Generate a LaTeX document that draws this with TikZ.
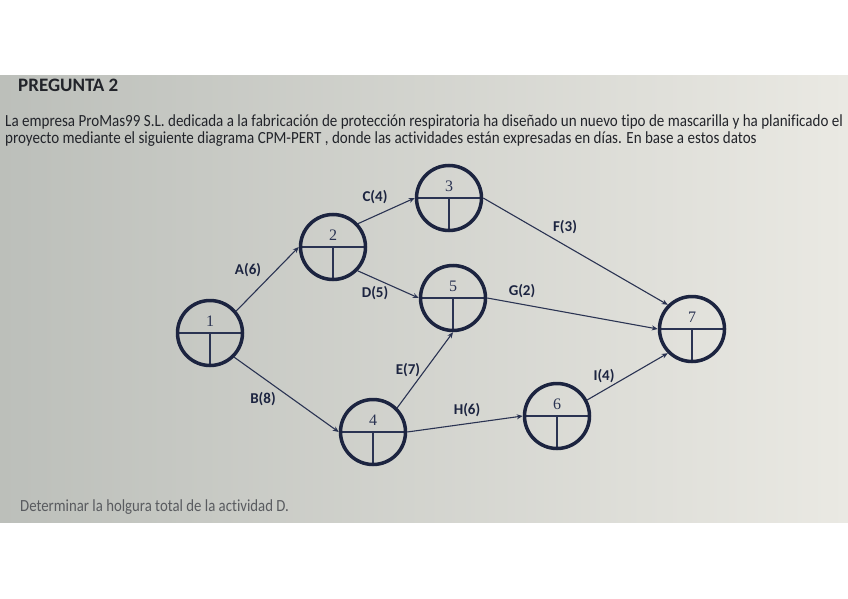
\documentclass[tikz,border=0pt]{standalone}
\usepackage{fontspec}
\setmainfont{Carlito}[Ligatures=NoCommon]
\newfontfamily\estrecha{Carlito}[FakeStretch=0.885, Ligatures=NoCommon]
\newfontfamily\pie{Carlito}[FakeStretch=0.87, Ligatures=NoCommon]
\newfontfamily\cifras{Liberation Serif}
\usetikzlibrary{arrows.meta}
\definecolor{tinta}{HTML}{1C2440}
\definecolor{trazo}{HTML}{2A3352}
\definecolor{letra}{HTML}{22242A}
\definecolor{fondoizq}{HTML}{BCBFBA}
\definecolor{fondomed}{HTML}{D9DAD4}
\definecolor{fondoder}{HTML}{EAE9E3}
\tikzset{
  evento/.style={circle, draw=tinta, line width=3.5pt, minimum size=65pt, inner sep=0pt,
    font=\cifras\fontsize{16}{16}\selectfont, text=trazo, text height=11.5pt, text depth=24.5pt,
    path picture={\draw[trazo, line width=1.2pt] (path picture bounding box.west) -- (path picture bounding box.east)
      (path picture bounding box.center) -- (path picture bounding box.south);}},
  arista/.style={draw=trazo, line width=1.1pt, -{Stealth[length=6pt,width=5pt]}},
  etiq/.style={font=\bfseries\fontsize{15}{15}\selectfont, text=tinta}
}
\begin{document}
\begin{tikzpicture}[x=1pt,y=-1pt]
  \useasboundingbox (0,0) rectangle (848,599);
  \fill[left color=fondoizq, middle color=fondomed, right color=fondoder] (0,76) rectangle (848,522);
  \node[anchor=base west, inner sep=0, text=letra, font=\bfseries\fontsize{19}{19}\selectfont] (titulo) at (18,92) {PREGUNTA 2};
  \node[anchor=base west, inner sep=0, text=letra, font=\estrecha\fontsize{17}{17}\selectfont] (linea1) at (5,126) {La empresa ProMas99 S.L. dedicada a la fabricación de protección respiratoria ha diseñado un nuevo tipo de mascarilla y ha planificado el};
  \node[anchor=base west, inner sep=0, text=letra, font=\estrecha\fontsize{17}{17}\selectfont] (linea2) at (5,143) {proyecto mediante el siguiente diagrama CPM-PERT , donde las actividades están expresadas en días. En base a estos datos};
  \node[anchor=base west, inner sep=0, text=letra!75, font=\pie\fontsize{17}{17}\selectfont] (pregunta) at (20,511) {Determinar la holgura total de la actividad D.};

  \node[evento] (n1) at (210,333) {1};
  \node[evento] (n2) at (333,247) {2};
  \node[evento] (n3) at (449,198) {3};
  \node[evento] (n4) at (373,432) {4};
  \node[evento] (n5) at (453,298) {5};
  \node[evento] (n6) at (557,416) {6};
  \node[evento] (n7) at (692,329) {7};

  \draw[arista] (n1.40) -- (n2.west);
  \draw[arista] (n1.-45) -- (n4.west);
  \draw[arista] (n2.43) -- (n3.west);
  \draw[arista] (n2.-44) -- (n5.west);
  \draw[arista] (n4.45) -- (n5.south);
  \draw[arista] (n3.east) -- (n7.135);
  \draw[arista] (n5.east) -- (n7.west);
  \draw[arista] (n4.east) -- (n6.west);
  \draw[arista] (n6.28) -- (n7.225);

  \node[etiq] (lA) at (248,270) {A(6)};
  \node[etiq] (lB) at (263,399) {B(8)};
  \node[etiq] (lC) at (375,197) {C(4)};
  \node[etiq] (lD) at (375,293) {D(5)};
  \node[etiq] (lE) at (408,370) {E(7)};
  \node[etiq] (lF) at (565,227) {F(3)};
  \node[etiq] (lG) at (522,291) {G(2)};
  \node[etiq] (lH) at (467,410) {H(6)};
  \node[etiq] (lI) at (604,376) {I(4)};
\end{tikzpicture}
\end{document}
